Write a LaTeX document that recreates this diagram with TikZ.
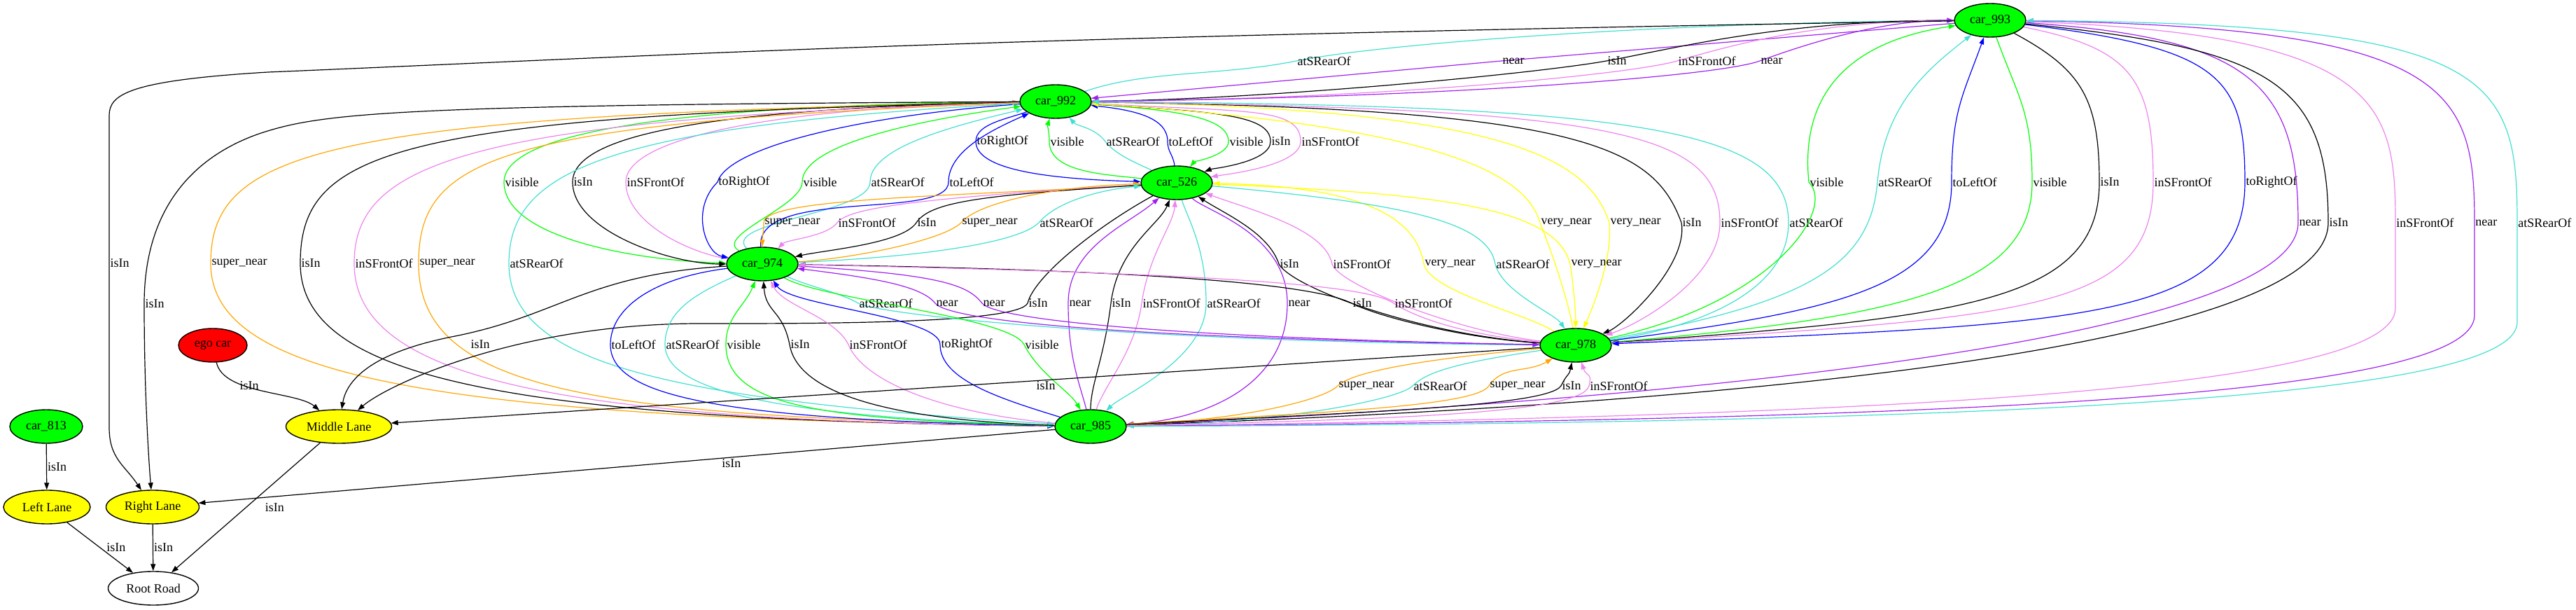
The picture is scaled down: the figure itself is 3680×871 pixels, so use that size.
\documentclass[tikz,border=0pt]{standalone}
\usepackage{fontspec}
\setmainfont{Liberation Serif}
\usetikzlibrary{shapes.geometric,arrows.meta}
\definecolor{cgreen}{HTML}{00FF00}
\definecolor{cpurple}{HTML}{A020F0}
\definecolor{cviolet}{HTML}{EE82EE}
\definecolor{ccyan}{HTML}{40E0D0}
\definecolor{corange}{HTML}{FFA500}
\definecolor{cyellow}{HTML}{FFFF00}
\definecolor{cblue}{HTML}{0000FF}
\definecolor{cred}{HTML}{FF0000}
\pgfdeclarelayer{bg}
\pgfsetlayers{bg,main}
\begin{document}
\begin{tikzpicture}[x=0.5pt,y=-0.5pt,
  >={Triangle[length=5pt,width=3.5pt]},
  nd/.style={ellipse, draw=black, line width=0.7pt, inner sep=0pt, minimum height=24pt, font=\fontsize{9}{10}\selectfont},
  car/.style={nd, fill=cgreen, minimum width=51pt},
  lane/.style={nd, fill=cyellow},
  ed/.style={line width=0.6pt},
  eK/.style={ed, draw=black},
  eP/.style={ed, draw=cpurple},
  eV/.style={ed, draw=cviolet},
  eC/.style={ed, draw=ccyan},
  eO/.style={ed, draw=corange},
  eY/.style={ed, draw=cyellow},
  eB/.style={ed, draw=cblue},
  eG/.style={ed, draw=cgreen},
  lab/.style={anchor=west, inner sep=0.5pt, font=\fontsize{9}{10}\selectfont, text=black}]
\useasboundingbox (0,0) rectangle (3680,871);
% nodes
\node[car] (n993) at (2843,29) {car\_993};
\node[car] (n992) at (1508,145) {car\_992};
\node[car] (n526) at (1681,261) {car\_526};
\node[car] (n974) at (1089,377) {car\_974};
\node[car] (n978) at (2251,493) {car\_978};
\node[car] (n985) at (1558,609) {car\_985};
\node[nd, fill=cred, minimum width=49pt] (ego) at (304,493) {ego car};
\node[car, minimum width=52pt] (n813) at (66,609) {car\_813};
\node[lane, minimum width=75.5pt] (laneM) at (484,609) {Middle Lane};
\node[lane, minimum width=62pt] (laneL) at (67,724) {Left Lane};
\node[lane, minimum width=66.5pt] (laneR) at (218,724) {Right Lane};
\node[nd, fill=white, minimum width=64.5pt] (root) at (219,840) {Root Road};
\begin{pgfonlayer}{bg}
% car_993 -- car_992
\draw[eC,->] (n992) .. controls +(130,-45) and +(-110,22) .. (1852,87) node[lab]{atSRearOf} .. controls +(130,-26) and +(-450,3) .. (n993);
\draw[eP,<-] (n992) -- (2145,87) node[lab]{near} -- (n993);
\draw[eK,<-] (n992) .. controls +(300,-3) and +(-100,18) .. (2295,87) node[lab]{isIn} .. controls +(100,-18) and +(-300,0) .. (n993);
\draw[eV,<-] (n992) .. controls +(450,-3) and +(-70,20) .. (2396,87) node[lab]{inSFrontOf} .. controls +(70,-20) and +(-250,0) .. (n993);
\draw[eP,->] (n992) .. controls +(550,-5) and +(-60,22) .. (2514,87) node[lab]{near} .. controls +(60,-22) and +(-160,0) .. (n993);
% car_992 -- car_526
\draw[eB,->] (n992) .. controls +(-70,25) and +(0,-25) .. (1394,202) node[lab]{toRightOf} .. controls +(0,45) and +(-160,-5) .. (n526);
\draw[eG,<-] (n992) .. controls +(-12,35) and +(0,-15) .. (1499,202) node[lab]{visible} .. controls +(0,45) and +(-100,-12) .. (n526);
\draw[eC,<-] (n992) .. controls +(30,35) and +(-15,-20) .. (1579,202) node[lab]{atSRearOf} .. controls +(15,20) and +(-50,-25) .. (n526);
\draw[eB,<-] (n992) .. controls +(110,12) and +(0,-35) .. (1668,202) node[lab]{toLeftOf} .. controls +(0,15) and +(-5,-40) .. (n526);
\draw[eG,->] (n992) .. controls +(170,12) and +(0,-35) .. (1755,202) node[lab]{visible} .. controls +(0,20) and +(25,-30) .. (n526);
\draw[eK,->] (n992) .. controls +(220,15) and +(0,-40) .. (1815,202) node[lab]{isIn} .. controls +(0,30) and +(50,-20) .. (n526);
\draw[eV,->] (n992) .. controls +(270,15) and +(0,-50) .. (1858,202) node[lab]{inSFrontOf} .. controls +(0,35) and +(70,-12) .. (n526);
% car_992 -- car_974
\draw[eG,->] (n992) .. controls +(-550,5) and +(0,-70) .. (720,260) node[lab]{visible} .. controls +(0,80) and +(-180,-5) .. (n974);
\draw[eK,->] (n992) .. controls +(-480,10) and +(0,-70) .. (818,260) node[lab]{isIn} .. controls +(0,70) and +(-130,0) .. (n974);
\draw[eV,<-] (n992) .. controls +(-420,10) and +(0,-60) .. (894,260) node[lab]{inSFrontOf} .. controls +(0,60) and +(-100,-15) .. (n974);
\draw[eB,->] (n992) .. controls +(-280,20) and +(15,-50) .. (1025,260) node[lab]{toRightOf} .. controls +(-40,40) and +(-80,-15) .. (n974);
\draw[eG,<-] (n992) .. controls +(-220,30) and +(0,-50) .. (1146,260) node[lab]{visible} .. controls +(0,35) and +(-70,-40) .. (n974);
\draw[eC,<-] (n992) .. controls +(-170,40) and +(0,-45) .. (1243,260) node[lab]{atSRearOf} .. controls +(0,45) and +(-60,-60) .. (n974);
\draw[eB,<-] (n992) .. controls +(-90,40) and +(0,-45) .. (1355,260) node[lab]{toLeftOf} .. controls +(0,55) and +(-10,-110) .. (n974);
% car_526 -- car_974
\draw[eO,->] (n526) .. controls +(-330,20) and +(0,-35) .. (1091,318) node[lab]{super\_near} .. controls +(0,15) and +(0,-40) .. (n974);
\draw[eV,->] (n526) .. controls +(-380,22) and +(15,-20) .. (1196,318) node[lab]{inSFrontOf} .. controls +(-15,20) and +(35,-35) .. (n974);
\draw[eK,->] (n526) .. controls +(-280,18) and +(20,-30) .. (1309,318) node[lab]{isIn} .. controls +(-20,30) and +(90,-20) .. (n974);
\draw[eO,<-] (n526) .. controls +(-170,5) and +(25,-30) .. (1373,318) node[lab]{super\_near} .. controls +(-25,25) and +(130,-8) .. (n974);
\draw[eC,<-] (n526) .. controls +(-110,10) and +(25,-30) .. (1484,318) node[lab]{atSRearOf} .. controls +(-30,30) and +(220,-10) .. (n974);
% car_526 -- car_978
\draw[eK,<-] (n526) .. controls +(70,45) and +(-15,-45) .. (1827,377) node[lab]{isIn} .. controls +(20,35) and +(-220,-15) .. (n978);
\draw[eV,<-] (n526) .. controls +(110,40) and +(-10,-50) .. (1903,377) node[lab]{inSFrontOf} .. controls +(10,30) and +(-170,-20) .. (n978);
\draw[eY,<-] (n526) .. controls +(280,5) and +(-10,-60) .. (2034,377) node[lab]{very\_near} .. controls +(10,40) and +(-70,-45) .. (n978);
\draw[eC,->] (n526) .. controls +(330,30) and +(-10,-60) .. (2136,377) node[lab]{atSRearOf} .. controls +(10,40) and +(-30,-45) .. (n978);
\draw[eY,->] (n526) .. controls +(380,15) and +(-20,-80) .. (2243,377) node[lab]{very\_near} .. controls +(5,30) and +(0,-45) .. (n978);
% car_992 -- car_978
\draw[eY,<-] (n992) .. controls +(550,35) and +(-20,-70) .. (2200,318) node[lab]{very\_near} .. controls +(20,50) and +(-10,-60) .. (n978);
\draw[eY,->] (n992) .. controls +(650,10) and +(-30,-90) .. (2299,318) node[lab]{very\_near} .. controls +(5,50) and +(25,-55) .. (n978);
\draw[eK,->] (n992) .. controls +(750,10) and +(-40,-110) .. (2402,318) node[lab]{isIn} .. controls +(10,60) and +(70,-30) .. (n978);
\draw[eV,->] (n992) .. controls +(800,10) and +(0,-130) .. (2457,318) node[lab]{inSFrontOf} .. controls +(0,80) and +(90,-30) .. (n978);
\draw[eC,<-] (n992) .. controls +(850,5) and +(0,-130) .. (2555,318) node[lab]{atSRearOf} .. controls +(0,100) and +(170,-25) .. (n978);
% car_992 -- car_985
\draw[eO,<-] (n992) .. controls +(-1050,20) and +(0,-160) .. (301,376) node[lab]{super\_near} .. controls +(0,160) and +(-950,-12) .. (n985);
\draw[eK,->] (n992) .. controls +(-950,20) and +(0,-160) .. (429,376) node[lab]{isIn} .. controls +(0,160) and +(-850,-10) .. (n985);
\draw[eV,<-] (n992) .. controls +(-850,25) and +(0,-140) .. (506,376) node[lab]{inSFrontOf} .. controls +(0,160) and +(-780,-8) .. (n985);
\draw[eO,->] (n992) .. controls +(-800,30) and +(0,-150) .. (598,376) node[lab]{super\_near} .. controls +(0,180) and +(-720,-15) .. (n985);
\draw[eC,->] (n992) .. controls +(-650,35) and +(0,-130) .. (727,376) node[lab]{atSRearOf} .. controls +(0,140) and +(-620,-40) .. (n985);
% car_993 -- car_978
\draw[eG,<-] (n993) .. controls +(-230,35) and +(-10,-100) .. (2584,260) node[lab]{visible} .. controls +(40,40) and +(280,-60) .. (n978);
\draw[eC,<-] (n993) .. controls +(-90,70) and +(10,-110) .. (2682,260) node[lab]{atSRearOf} .. controls +(-10,120) and +(330,-60) .. (n978);
\draw[eB,<-] (n993) .. controls +(-40,110) and +(0,-100) .. (2788,260) node[lab]{toLeftOf} .. controls +(0,150) and +(380,-50) .. (n978);
\draw[eG,->] (n993) .. controls +(40,110) and +(0,-100) .. (2903,260) node[lab]{visible} .. controls +(0,150) and +(470,-40) .. (n978);
\draw[eK,->] (n993) .. controls +(130,70) and +(0,-120) .. (2999,260) node[lab]{isIn} .. controls +(0,170) and +(560,-40) .. (n978);
\draw[eV,->] (n993) .. controls +(200,40) and +(0,-150) .. (3076,260) node[lab]{inSFrontOf} .. controls +(0,180) and +(660,-40) .. (n978);
\draw[eB,->] (n993) .. controls +(330,40) and +(0,-150) .. (3207,260) node[lab]{toRightOf} .. controls +(0,200) and +(720,-30) .. (n978);
% car_993 -- car_985
\draw[eP,->] (n993) .. controls +(370,25) and +(0,-200) .. (3283,318) node[lab]{near} .. controls +(0,160) and +(900,-40) .. (n985);
\draw[eK,->] (n993) .. controls +(400,40) and +(0,-200) .. (3326,318) node[lab]{isIn} .. controls +(0,170) and +(1000,-35) .. (n985);
\draw[eV,->] (n993) .. controls +(560,20) and +(0,-170) .. (3422,318) -- (3422,440) .. controls +(0,120) and +(1100,-15) .. (n985);
\path (3422,318) node[lab]{inSFrontOf};
\draw[eP,<-] (n993) .. controls +(660,10) and +(0,-190) .. (3535,318) -- (3535,450) .. controls +(0,120) and +(1200,-10) .. (n985);
\path (3535,318) node[lab]{near};
\draw[eC,<-] (n993) .. controls +(720,5) and +(0,-210) .. (3596,318) -- (3596,460) .. controls +(0,110) and +(1300,-5) .. (n985);
\path (3596,318) node[lab]{atSRearOf};
% car_526 -- car_985
\draw[eP,<-] (n526) .. controls +(-70,60) and +(0,-80) .. (1526,433) node[lab]{near} .. controls +(0,80) and +(-15,-60) .. (n985);
\draw[eK,<-] (n526) .. controls +(-25,60) and +(10,-80) .. (1587,433) node[lab]{isIn} .. controls +(-10,80) and +(0,-60) .. (n985);
\draw[eV,<-] (n526) .. controls +(-5,60) and +(10,-70) .. (1631,433) node[lab]{inSFrontOf} .. controls +(-10,70) and +(20,-60) .. (n985);
\draw[eC,->] (n526) .. controls +(15,50) and +(0,-80) .. (1723,433) node[lab]{atSRearOf} .. controls +(0,80) and +(45,-45) .. (n985);
\draw[eP,->] (n526) .. controls +(40,40) and +(0,-100) .. (1839,433) node[lab]{near} .. controls +(0,120) and +(160,-10) .. (n985);
\draw[eK,->] (n526) .. controls +(-110,60) and +(10,-40) .. (1468,433) node[lab]{isIn} .. controls +(-15,30) and +(150,0) .. (1000,462) .. controls +(-260,0) and +(70,-60) .. (laneM);
% car_974 -- car_978
\draw[eC,->] (n974) .. controls +(60,30) and +(-25,-15) .. (1226,433) node[lab]{atSRearOf} .. controls +(25,15) and +(-650,-5) .. (n978);
\draw[eP,<-] (n974) .. controls +(160,20) and +(-20,-25) .. (1336,433) node[lab]{near} .. controls +(20,25) and +(-650,-10) .. (n978);
\draw[eP,->] (n974) .. controls +(260,15) and +(-20,-25) .. (1403,433) node[lab]{near} .. controls +(20,25) and +(-550,-10) .. (n978);
\draw[eK,<-] (n974) .. controls +(650,10) and +(-40,-20) .. (1931,433) node[lab]{isIn} .. controls +(40,20) and +(-160,-10) .. (n978);
\draw[eV,<-] (n974) .. controls +(750,15) and +(-30,-20) .. (1991,433) node[lab]{inSFrontOf} .. controls +(30,20) and +(-160,-15) .. (n978);
% car_974 -- car_985
\draw[eB,->] (n974) .. controls +(-160,20) and +(0,-50) .. (872,492) node[lab]{toLeftOf} .. controls +(0,70) and +(-550,-10) .. (n985);
\draw[eC,->] (n974) .. controls +(-90,40) and +(0,-50) .. (950,492) node[lab]{atSRearOf} .. controls +(0,60) and +(-480,-15) .. (n985);
\draw[eG,<-] (n974) .. controls +(-25,60) and +(0,-40) .. (1037,492) node[lab]{visible} .. controls +(0,90) and +(-380,-10) .. (n985);
\draw[eK,<-] (n974) .. controls +(5,70) and +(-10,-50) .. (1128,492) node[lab]{isIn} .. controls +(10,60) and +(-320,-10) .. (n985);
\draw[eV,<-] (n974) .. controls +(30,60) and +(-20,-40) .. (1212,492) node[lab]{inSFrontOf} .. controls +(20,50) and +(-220,-20) .. (n985);
\draw[eB,<-] (n974) .. controls +(40,60) and +(0,-40) .. (1343,492) node[lab]{toRightOf} .. controls +(0,50) and +(-130,-40) .. (n985);
\draw[eG,->] (n974) .. controls +(80,50) and +(-20,-40) .. (1463,492) node[lab]{visible} .. controls +(20,40) and +(-30,-50) .. (n985);
% car_978 -- car_985
\draw[eO,->] (n978) .. controls +(-220,20) and +(20,-20) .. (1911,551) node[lab]{super\_near} .. controls +(-20,20) and +(220,-10) .. (n985);
\draw[eC,->] (n978) .. controls +(-170,25) and +(20,-20) .. (2018,551) node[lab]{atSRearOf} .. controls +(-20,20) and +(270,-5) .. (n985);
\draw[eO,<-] (n978) .. controls +(-70,40) and +(20,-30) .. (2127,551) node[lab]{super\_near} .. controls +(-20,30) and +(320,-20) .. (n985);
\draw[eK,<-] (n978) .. controls +(-10,45) and +(10,-20) .. (2230,551) node[lab]{isIn} .. controls +(-20,30) and +(370,-20) .. (n985);
\draw[eV,<-] (n978) .. controls +(15,45) and +(5,-20) .. (2270,551) node[lab]{inSFrontOf} .. controls +(-10,40) and +(420,-10) .. (n985);
% lanes
\draw[eK,->] (n993) .. controls +(-1500,25) and +(600,-25) .. (383,103) .. controls +(-200,12) and +(0,-30) .. (156,165) -- (156,376) node[lab]{isIn} -- (156,610) .. controls +(0,45) and +(-40,-60) .. (laneR);
\draw[eK,->] (n992) .. controls +(-950,5) and +(90,-30) .. (370,191) .. controls +(-100,35) and +(0,-130) .. (206,434) node[lab]{isIn} .. controls +(0,130) and +(-5,-60) .. (laneR);
\draw[eK,->] (n985) -- (laneR) node[lab, pos=0.39, anchor=north west]{isIn};
\draw[eK,->] (n978) -- (laneM) node[lab, pos=0.43, anchor=north]{isIn};
\draw[eK,->] (n974) .. controls +(-250,15) and +(150,-30) .. (650,480) .. controls +(-130,25) and +(10,-60) .. (laneM);
\node[lab, anchor=center] (lN5) at (686,492) {isIn};
\draw[eK,->] (ego) .. controls +(15,70) and +(-60,-50) .. (laneM);
\node[lab, anchor=center] (lN7) at (356,551) {isIn};
\draw[eK,->] (n813) -- (laneL) node[lab, midway]{isIn};
\draw[eK,->] (laneL) -- (root) node[lab, midway, xshift=4pt]{isIn};
\draw[eK,->] (laneR) -- (root) node[lab, midway]{isIn};
\draw[eK,->] (laneM) -- (root) node[lab, midway, xshift=13pt]{isIn};
\end{pgfonlayer}
\end{tikzpicture}
\end{document}
